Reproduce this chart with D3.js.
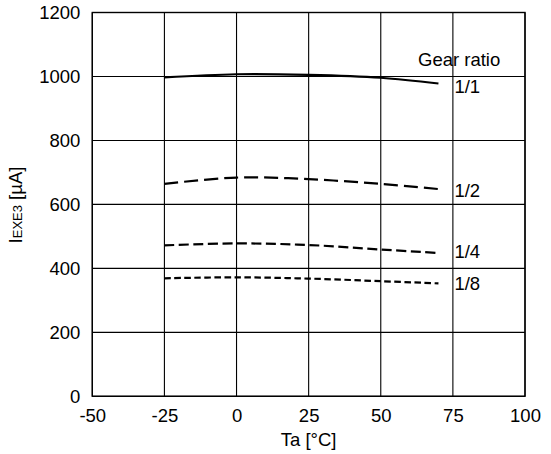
<!DOCTYPE html>
<html>
<head>
<meta charset="utf-8">
<script src="https://cdn.jsdelivr.net/npm/d3@7"></script>
<style>
  html, body { margin: 0; padding: 0; background: #fff; }
  svg { display: block; font-family: "Liberation Sans", Arial, Helvetica, sans-serif; }
  text { fill: #000; }
</style>
</head>
<body>
<svg id="chart" width="551" height="454"></svg>
<script>
// Ambient temperature sample points (°C)
const temps = [-25, 0, 25, 50, 70];
// Supply current IEXE3 (µA) per gear ratio
const ratio1 = [997, 1007, 1005, 996, 978];
const ratio2 = [664, 684, 679, 664, 648];
const ratio4 = [472, 478, 473, 459, 448];
const ratio8 = [369, 372, 368, 360, 353];
const seriesNames = ["1/1", "1/2", "1/4", "1/8"];
const xTicks = [-50, -25, 0, 25, 50, 75, 100];
const yTicks = [0, 200, 400, 600, 800, 1000, 1200];

const FS = 18.5;
const svg = d3.select("#chart");
const plotLeft = 92.3, plotRight = 525, plotTop = 12.5, plotBottom = 396.3;

const x = d3.scaleLinear().domain([-50, 100]).range([plotLeft, plotRight]);
const y = d3.scaleLinear().domain([0, 1200]).range([plotBottom, plotTop]);
const fmt = d => String(d);

// grid
svg.append("g").selectAll("line").data(xTicks).join("line")
  .attr("x1", d => x(d)).attr("x2", d => x(d))
  .attr("y1", plotTop).attr("y2", plotBottom)
  .attr("stroke", "#000").attr("stroke-width", 1.1);
svg.append("g").selectAll("line").data(yTicks).join("line")
  .attr("x1", plotLeft).attr("x2", plotRight)
  .attr("y1", d => y(d)).attr("y2", d => y(d))
  .attr("stroke", "#000").attr("stroke-width", 1.1);
svg.append("rect")
  .attr("x", plotLeft).attr("y", plotTop)
  .attr("width", plotRight - plotLeft).attr("height", plotBottom - plotTop)
  .attr("fill", "none").attr("stroke", "#000").attr("stroke-width", 1.4);

// axes (labels only, ticks drawn as grid)
const xAxis = d3.axisBottom(x).tickValues(xTicks).tickFormat(fmt).tickSize(0).tickPadding(13);
const gx = svg.append("g").attr("transform", `translate(0,${plotBottom})`).call(xAxis);
gx.select(".domain").remove();
gx.selectAll("text").attr("font-size", FS).attr("fill", "#000")
  .attr("font-family", "Liberation Sans, Arial, sans-serif");

const yAxis = d3.axisLeft(y).tickValues(yTicks).tickFormat(fmt).tickSize(0).tickPadding(12);
const gy = svg.append("g").attr("transform", `translate(${plotLeft},0)`).call(yAxis);
gy.select(".domain").remove();
gy.selectAll("text").attr("font-size", FS).attr("fill", "#000")
  .attr("font-family", "Liberation Sans, Arial, sans-serif");

// curves
const series = [
  { name: seriesNames[0], values: ratio1, dash: null },
  { name: seriesNames[1], values: ratio2, dash: "14,6" },
  { name: seriesNames[2], values: ratio4, dash: "10,4.5" },
  { name: seriesNames[3], values: ratio8, dash: "6.5,3.5" }
];
const line = d3.line()
  .x((d, i) => x(temps[i]))
  .y(d => y(d))
  .curve(d3.curveCatmullRom.alpha(0.5));

svg.append("g").selectAll("path").data(series).join("path")
  .attr("d", d => line(d.values))
  .attr("fill", "none")
  .attr("stroke", "#000")
  .attr("stroke-width", 2.2)
  .attr("stroke-dasharray", d => d.dash);

// series labels, placed just right of the 75 °C grid line
const labelDy = [9.7, 8, 5, 6.7];
svg.append("g").selectAll("text").data(series).join("text")
  .attr("x", x(75) + 1.5)
  .attr("y", (d, i) => y(d.values[d.values.length - 1]) + labelDy[i])
  .attr("font-size", FS)
  .text(d => d.name);

svg.append("text")
  .attr("x", 418).attr("y", 66)
  .attr("font-size", FS)
  .text("Gear ratio");

// axis titles
svg.append("text")
  .attr("x", x(25)).attr("y", 446)
  .attr("text-anchor", "middle")
  .attr("font-size", FS)
  .text("Ta [°C]");

const yt = svg.append("text")
  .attr("transform", `translate(22,205) rotate(-90)`)
  .attr("text-anchor", "middle")
  .attr("font-size", FS);
yt.append("tspan").text("I");
yt.append("tspan").attr("font-size", 13).text("EXE3");
yt.append("tspan").text(" [µA]");
</script>
</body>
</html>
